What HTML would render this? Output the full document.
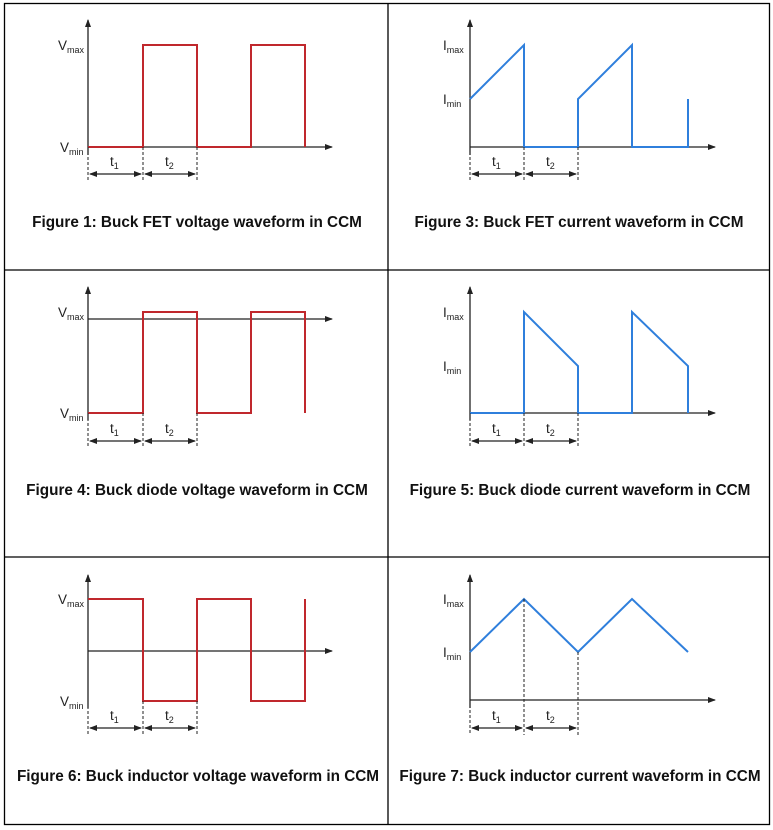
<!DOCTYPE html>
<html><head><meta charset="utf-8"><style>
html,body{margin:0;padding:0;background:#fff;}
svg{display:block}
.ax{stroke:#222;stroke-width:1.3;fill:none}
.r{stroke:#c0282d;stroke-width:2;fill:none}
.b{stroke:#2f7fdc;stroke-width:2;fill:none}
.d{stroke:#222;stroke-width:1;stroke-dasharray:3,2;fill:none}
.lbl{font-family:"Liberation Sans",sans-serif;font-size:13.5px;fill:#222}
.sub{font-size:9px}
.cap{font-family:"Liberation Sans",sans-serif;font-weight:bold;font-size:15.3px;fill:#111}
</style></head><body>
<svg width="773" height="830" viewBox="0 0 773 830">
<defs>
<marker id="a" markerWidth="8" markerHeight="8" refX="7" refY="4" orient="auto" markerUnits="userSpaceOnUse"><path d="M0,1 L8,4 L0,7 z" fill="#222"/></marker>
<marker id="as" markerWidth="8" markerHeight="8" refX="1" refY="4" orient="auto" markerUnits="userSpaceOnUse"><path d="M8,1 L0,4 L8,7 z" fill="#222"/></marker>
</defs>
<g stroke="#000" stroke-width="1.3" fill="none">
<rect x="4.5" y="3.5" width="765" height="821"/>
<line x1="388" y1="3.5" x2="388" y2="824.5"/>
<line x1="4.5" y1="270" x2="769.5" y2="270"/>
<line x1="4.5" y1="557" x2="769.5" y2="557"/>
</g>

<g>
<line class="ax" x1="88" y1="155" x2="88" y2="20" marker-end="url(#a)"/>
<line class="ax" x1="88" y1="147" x2="332" y2="147" marker-end="url(#a)"/>
<polyline class="r" points="88,147 143,147 143,45 197,45 197,147 251,147 251,45 305,45 305,147"/>
<line class="d" x1="88" y1="147" x2="88" y2="182"/><line class="d" x1="143" y1="147" x2="143" y2="182"/><line class="d" x1="197" y1="147" x2="197" y2="182"/>
<line class="ax" x1="90" y1="174" x2="141" y2="174" marker-start="url(#as)" marker-end="url(#a)"/>
<line class="ax" x1="145" y1="174" x2="195" y2="174" marker-start="url(#as)" marker-end="url(#a)"/>
<text class="lbl" x="110" y="166">t<tspan class="sub" dy="3">1</tspan></text>
<text class="lbl" x="165" y="166">t<tspan class="sub" dy="3">2</tspan></text>
<text class="lbl" x="58" y="50">V<tspan class="sub" dy="3">max</tspan></text>
<text class="lbl" x="60" y="152">V<tspan class="sub" dy="3">min</tspan></text>
<text class="cap" x="197" y="227" text-anchor="middle">Figure 1: Buck FET voltage waveform in CCM</text>
</g>

<g>
<line class="ax" x1="470" y1="155" x2="470" y2="20" marker-end="url(#a)"/>
<line class="ax" x1="470" y1="147" x2="715" y2="147" marker-end="url(#a)"/>
<polyline class="b" points="470,99 524,45 524,147 578,147 578,99 632,45 632,147 688,147 688,99"/>
<line class="d" x1="470" y1="147" x2="470" y2="182"/><line class="d" x1="524" y1="147" x2="524" y2="182"/><line class="d" x1="578" y1="147" x2="578" y2="182"/>
<line class="ax" x1="472" y1="174" x2="522" y2="174" marker-start="url(#as)" marker-end="url(#a)"/>
<line class="ax" x1="526" y1="174" x2="576" y2="174" marker-start="url(#as)" marker-end="url(#a)"/>
<text class="lbl" x="492" y="166">t<tspan class="sub" dy="3">1</tspan></text>
<text class="lbl" x="546" y="166">t<tspan class="sub" dy="3">2</tspan></text>
<text class="lbl" x="443" y="50">I<tspan class="sub" dy="3">max</tspan></text>
<text class="lbl" x="443" y="104">I<tspan class="sub" dy="3">min</tspan></text>
<text class="cap" x="579" y="227" text-anchor="middle">Figure 3: Buck FET current waveform in CCM</text>
</g>

<g>
<line class="ax" x1="88" y1="420" x2="88" y2="287" marker-end="url(#a)"/>
<line class="ax" x1="88" y1="319" x2="332" y2="319" marker-end="url(#a)"/>
<polyline class="r" points="88,413 143,413 143,312 197,312 197,413 251,413 251,312 305,312 305,413"/>
<line class="d" x1="88" y1="413" x2="88" y2="448"/><line class="d" x1="143" y1="413" x2="143" y2="448"/><line class="d" x1="197" y1="413" x2="197" y2="448"/>
<line class="ax" x1="90" y1="441" x2="141" y2="441" marker-start="url(#as)" marker-end="url(#a)"/>
<line class="ax" x1="145" y1="441" x2="195" y2="441" marker-start="url(#as)" marker-end="url(#a)"/>
<text class="lbl" x="110" y="433">t<tspan class="sub" dy="3">1</tspan></text>
<text class="lbl" x="165" y="433">t<tspan class="sub" dy="3">2</tspan></text>
<text class="lbl" x="58" y="317">V<tspan class="sub" dy="3">max</tspan></text>
<text class="lbl" x="60" y="418">V<tspan class="sub" dy="3">min</tspan></text>
<text class="cap" x="197" y="495" text-anchor="middle">Figure 4: Buck diode voltage waveform in CCM</text>
</g>

<g>
<line class="ax" x1="470" y1="420" x2="470" y2="287" marker-end="url(#a)"/>
<line class="ax" x1="470" y1="413" x2="715" y2="413" marker-end="url(#a)"/>
<polyline class="b" points="470,413 524,413 524,312 578,366 578,413 632,413 632,312 688,366 688,413"/>
<line class="d" x1="470" y1="413" x2="470" y2="448"/><line class="d" x1="524" y1="413" x2="524" y2="448"/><line class="d" x1="578" y1="413" x2="578" y2="448"/>
<line class="ax" x1="472" y1="441" x2="522" y2="441" marker-start="url(#as)" marker-end="url(#a)"/>
<line class="ax" x1="526" y1="441" x2="576" y2="441" marker-start="url(#as)" marker-end="url(#a)"/>
<text class="lbl" x="492" y="433">t<tspan class="sub" dy="3">1</tspan></text>
<text class="lbl" x="546" y="433">t<tspan class="sub" dy="3">2</tspan></text>
<text class="lbl" x="443" y="317">I<tspan class="sub" dy="3">max</tspan></text>
<text class="lbl" x="443" y="371">I<tspan class="sub" dy="3">min</tspan></text>
<text class="cap" x="580" y="495" text-anchor="middle">Figure 5: Buck diode current waveform in CCM</text>
</g>

<g>
<line class="ax" x1="88" y1="708" x2="88" y2="575" marker-end="url(#a)"/>
<line class="ax" x1="88" y1="651" x2="332" y2="651" marker-end="url(#a)"/>
<polyline class="r" points="88,599 143,599 143,701 197,701 197,599 251,599 251,701 305,701 305,599"/>
<line class="d" x1="88" y1="701" x2="88" y2="735"/><line class="d" x1="143" y1="701" x2="143" y2="735"/><line class="d" x1="197" y1="701" x2="197" y2="735"/>
<line class="ax" x1="90" y1="728" x2="141" y2="728" marker-start="url(#as)" marker-end="url(#a)"/>
<line class="ax" x1="145" y1="728" x2="195" y2="728" marker-start="url(#as)" marker-end="url(#a)"/>
<text class="lbl" x="110" y="720">t<tspan class="sub" dy="3">1</tspan></text>
<text class="lbl" x="165" y="720">t<tspan class="sub" dy="3">2</tspan></text>
<text class="lbl" x="58" y="604">V<tspan class="sub" dy="3">max</tspan></text>
<text class="lbl" x="60" y="706">V<tspan class="sub" dy="3">min</tspan></text>
<text class="cap" x="198" y="781" text-anchor="middle">Figure 6: Buck inductor voltage waveform in CCM</text>
</g>

<g>
<line class="ax" x1="470" y1="708" x2="470" y2="575" marker-end="url(#a)"/>
<line class="ax" x1="470" y1="700" x2="715" y2="700" marker-end="url(#a)"/>
<polyline class="b" points="470,652 524,599 578,652 632,599 688,652"/>
<line class="d" x1="470" y1="700" x2="470" y2="735"/><line class="d" x1="524" y1="599" x2="524" y2="735"/><line class="d" x1="578" y1="652" x2="578" y2="735"/>
<line class="ax" x1="472" y1="728" x2="522" y2="728" marker-start="url(#as)" marker-end="url(#a)"/>
<line class="ax" x1="526" y1="728" x2="576" y2="728" marker-start="url(#as)" marker-end="url(#a)"/>
<text class="lbl" x="492" y="720">t<tspan class="sub" dy="3">1</tspan></text>
<text class="lbl" x="546" y="720">t<tspan class="sub" dy="3">2</tspan></text>
<text class="lbl" x="443" y="604">I<tspan class="sub" dy="3">max</tspan></text>
<text class="lbl" x="443" y="657">I<tspan class="sub" dy="3">min</tspan></text>
<text class="cap" x="580" y="781" text-anchor="middle">Figure 7: Buck inductor current waveform in CCM</text>
</g>
</svg>
</body></html>
